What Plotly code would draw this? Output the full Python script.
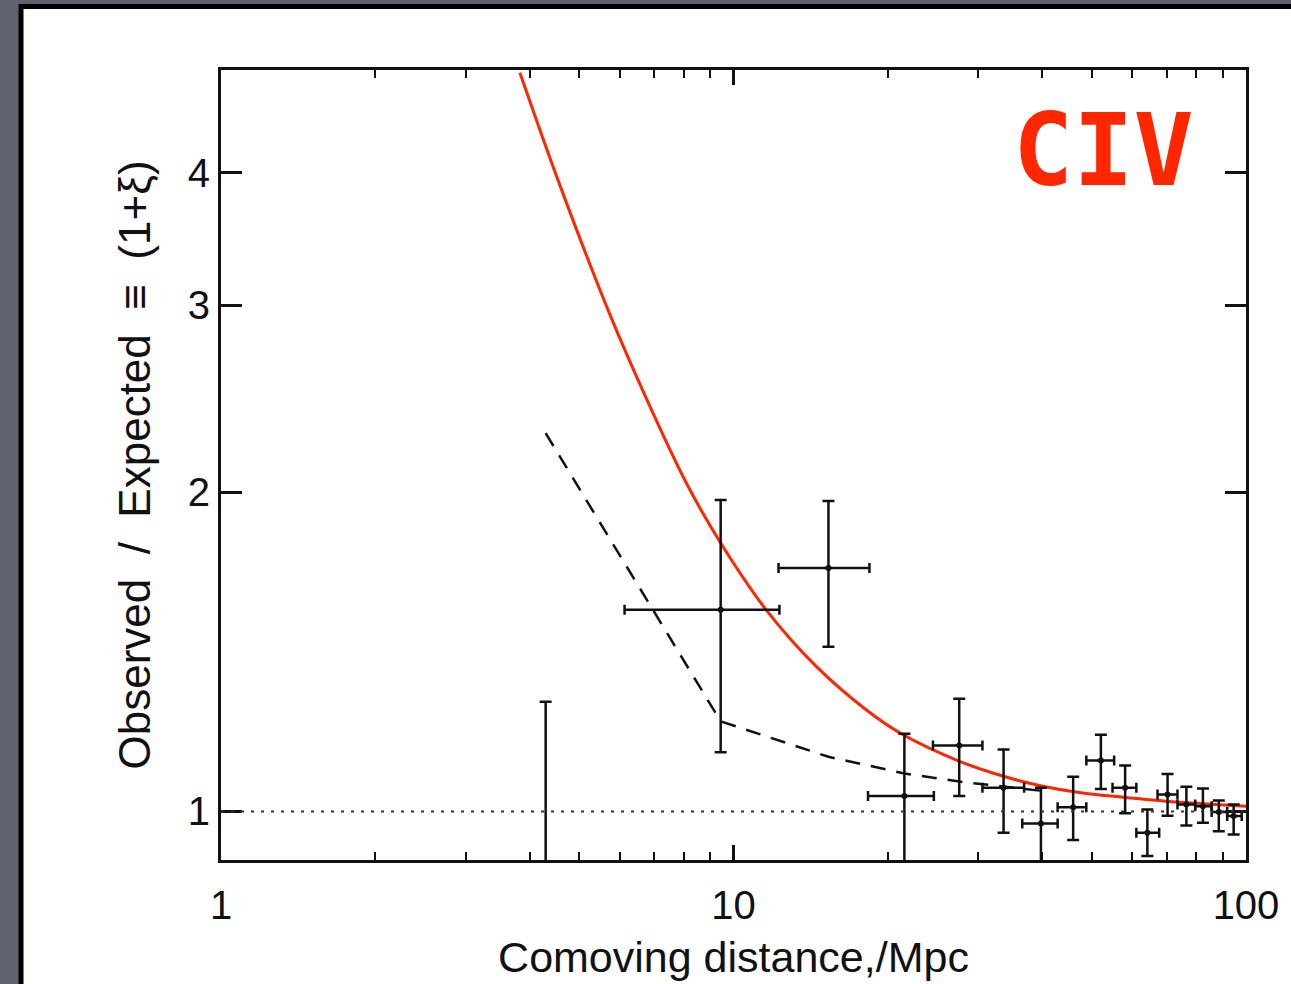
import math
import plotly.graph_objects as go

# Binned pair counts: bin centre (Mpc), bin edges and 1-sigma range of the ratio
R_MPC = [4.30, 9.44, 15.32, 21.55, 27.57, 33.65, 39.8, 46.0, 52.1, 58.1, 64.2, 70.3, 76.5, 82.4, 88.5, 94.6]
R_LO = [0.5, 6.13, 12.24, 18.3, 24.5, 30.6, 36.6, 42.9, 48.8, 54.9, 61.1, 67.2, 73.5, 79.6, 85.7, 91.9]
R_HI = [6.13, 12.29, 18.42, 24.6, 30.6, 36.9, 42.9, 48.8, 55.3, 61.1, 67.7, 73.5, 79.6, 85.7, 91.9, 98.1]
RATIO = [0.55, 1.549, 1.696, 1.034, 1.154, 1.053, 0.974, 1.009, 1.117, 1.053, 0.955, 1.0375, 1.015, 1.0115, 0.999, 0.990]
RATIO_LO = [0.2, 1.137, 1.430, 0.80, 1.034, 0.955, 0.85, 0.940, 1.050, 0.996, 0.908, 0.991, 0.970, 0.976, 0.958, 0.951]
RATIO_HI = [1.269, 1.966, 1.962, 1.184, 1.277, 1.144, 1.053, 1.078, 1.181, 1.105, 1.004, 1.085, 1.055, 1.051, 1.024, 1.015]

# Power-law correlation function (solid red)
FIT_R = [3.83, 4.56, 5.74, 6.71, 8.09, 9.46, 11.58, 14.5, 18.14, 21.3, 27.6, 33.5, 39.5, 47.96, 58.2, 69.7, 100.0]
FIT_RATIO = [4.97, 3.92, 2.94, 2.47, 2.040, 1.788, 1.549, 1.370, 1.247, 1.183, 1.115, 1.080, 1.058, 1.041, 1.031, 1.0226, 1.0115]

# Bin-averaged model (dashed)
MODEL_R = [4.30, 9.44, 15.32, 21.55, 27.57, 33.65, 39.8]
MODEL_RATIO = [2.273, 1.216, 1.126, 1.086, 1.067, 1.055, 1.046]

X_TICKS = [1, 10, 100]
X_MINOR = [2, 3, 4, 5, 6, 7, 8, 9, 20, 30, 40, 50, 60, 70, 80, 90]
Y_TICKS = [1, 2, 3, 4]

FONT = "Liberation Sans"
INK = "#111111"
RED = "#ff2600"

err_y_plus = [h - y for h, y in zip(RATIO_HI, RATIO)]
err_y_minus = [y - l for y, l in zip(RATIO, RATIO_LO)]
err_x_plus = [h - x for h, x in zip(R_HI, R_MPC)]
err_x_minus = [x - l for x, l in zip(R_MPC, R_LO)]

fig = go.Figure()

fig.add_hline(y=1, line=dict(color="#333333", width=2, dash="3px,7px"))

fig.add_trace(go.Scatter(
    x=MODEL_R, y=MODEL_RATIO, mode="lines",
    line=dict(color=INK, width=2.5, dash="15px,11px"),
    showlegend=False, hoverinfo="skip",
))

fig.add_trace(go.Scatter(
    x=FIT_R, y=FIT_RATIO, mode="lines",
    line=dict(color=RED, width=3, shape="spline", smoothing=1.0),
    showlegend=False, hoverinfo="skip",
))

fig.add_trace(go.Scatter(
    x=R_MPC, y=RATIO, mode="markers",
    marker=dict(color=INK, size=6, symbol="circle"),
    error_x=dict(type="data", symmetric=False, array=err_x_plus, arrayminus=err_x_minus,
                 color=INK, thickness=2.5, width=5),
    error_y=dict(type="data", symmetric=False, array=err_y_plus, arrayminus=err_y_minus,
                 color=INK, thickness=2.5, width=6),
    showlegend=False,
))

# Slide panel behind the plot
fig.add_shape(
    type="rect", xref="paper", yref="paper", layer="below",
    x0=(21 - 221) / 1025, x1=(1310 - 221) / 1025,
    y0=(860 - 1010) / 790, y1=(860 - 6.5) / 790,
    fillcolor="white", line=dict(color="black", width=5),
)

fig.add_annotation(
    text="CIV", xref="paper", yref="paper",
    x=(1103 - 221) / 1025, y=(860 - 150) / 790,
    xanchor="center", yanchor="middle", showarrow=False,
    font=dict(family="DejaVu Sans Mono", size=100, color=RED, weight="bold"),
)

axis_common = dict(
    showline=True, linecolor=INK, linewidth=3, mirror="ticks",
    ticks="inside", tickcolor=INK, tickwidth=2.5,
    showgrid=False, zeroline=False,
    tickfont=dict(family=FONT, size=40, color=INK),
)

fig.update_xaxes(
    type="log", range=[0, 2],
    tickvals=X_TICKS, ticktext=[str(v) for v in X_TICKS], ticklen=15,
    ticklabelstandoff=8,
    minor=dict(tickvals=X_MINOR, ticks="inside", ticklen=8, tickwidth=2, tickcolor=INK, showgrid=False),
    title=dict(text="Comoving distance,/Mpc", font=dict(family=FONT, size=43, color=INK), standoff=16),
    **axis_common,
)
fig.update_yaxes(
    type="log", range=[math.log10(0.9), math.log10(5)],
    tickvals=Y_TICKS, ticktext=[str(v) for v in Y_TICKS], ticklen=21,
    title=dict(text="Observed\u00a0 /\u00a0 Expected\u00a0 \u2261\u00a0 (1+\u03be)",
               font=dict(family=FONT, size=44, color=INK), standoff=24),
    **axis_common,
)

fig.update_layout(
    width=1291, height=984, autosize=False,
    margin=dict(l=221, r=45, t=70, b=124),
    paper_bgcolor="#5f636e", plot_bgcolor="white",
    showlegend=False,
)

fig.write_html("out.html")
